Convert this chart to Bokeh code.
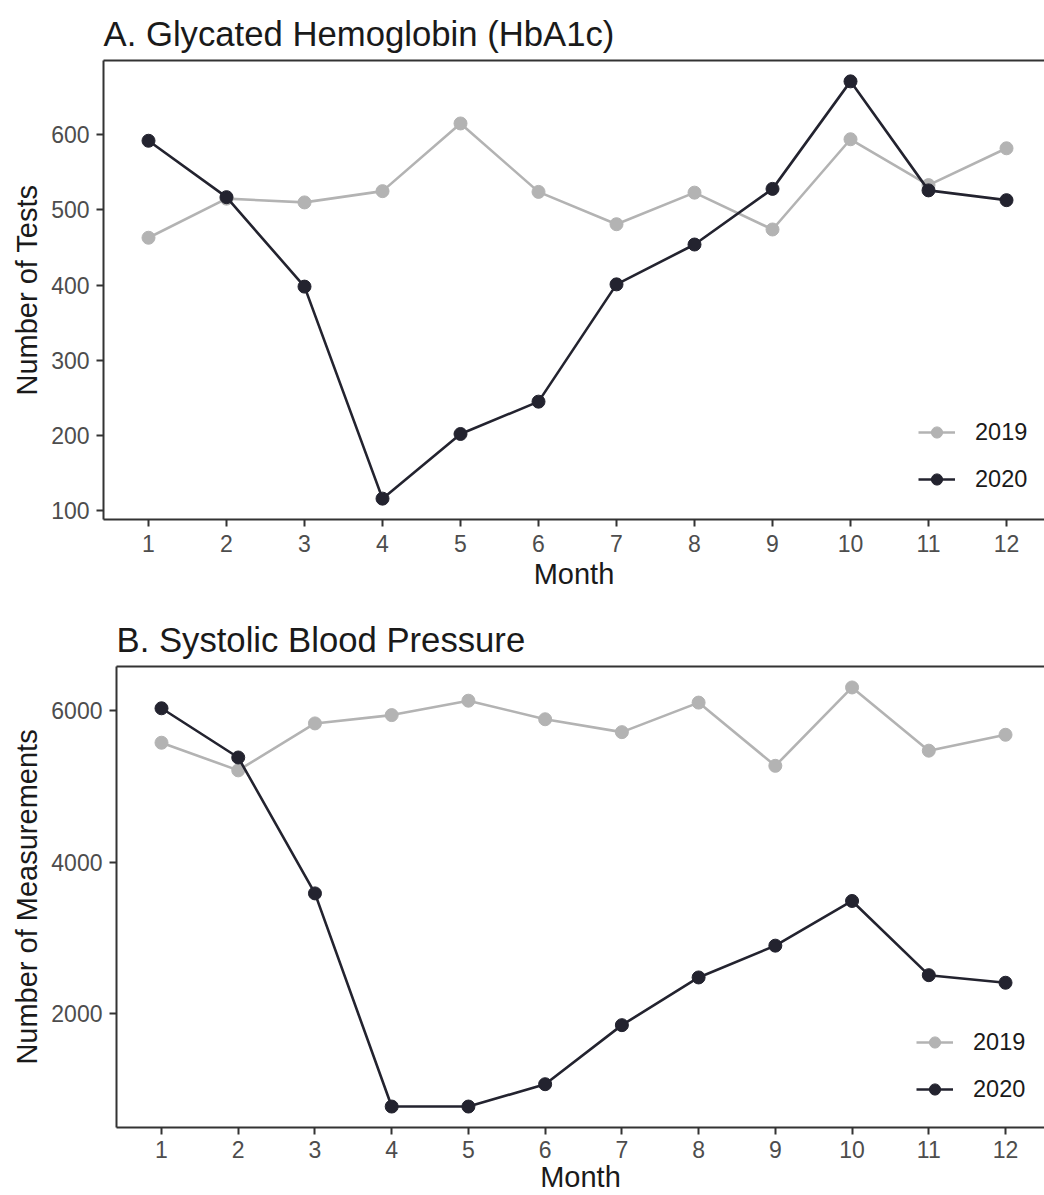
from bokeh.plotting import figure
from bokeh.models import Legend, LegendItem, FixedTicker, LinearAxis, Range1d
from bokeh.layouts import column, row
from bokeh.embed import file_html
from bokeh.resources import INLINE

# ---- data ----
months = list(range(1, 13))
hba1c_2019 = [463, 515, 510, 525, 615, 524, 481, 523, 474, 594, 533, 582]
hba1c_2020 = [592, 517, 398, 116, 202, 245, 401, 454, 528, 671, 526, 513]
sbp_2019 = [5580, 5215, 5835, 5945, 6135, 5890, 5720, 6110, 5275, 6310, 5475, 5685]
sbp_2020 = [6035, 5385, 3590, 775, 775, 1070, 1850, 2480, 2900, 3490, 2510, 2410]
hba1c_ticks = [100, 200, 300, 400, 500, 600]
sbp_ticks = [2000, 4000, 6000]
series_labels = ["2019", "2020"]

FONT = "Liberation Sans"
C19 = "#b3b3b3"
C20 = "#23232f"
AX = "#333333"


def make_panel(title, ylabel, y19, y20, yticks, height, mb_top, mb_left, x_start, x_end,
               legend_loc, x_lab_standoff, x_title_standoff):
    lo = min(y19 + y20)
    hi = max(y19 + y20)
    pad = (hi - lo) * 0.05
    p = figure(width=1044, height=height, output_backend="svg", toolbar_location=None,
               title=title, x_range=Range1d(x_start, x_end), y_range=Range1d(lo - pad, hi + pad),
               min_border_left=mb_left, min_border_right=0, min_border_top=mb_top,
               min_border_bottom=10)
    p.outline_line_color = None
    p.background_fill_color = "white"
    p.border_fill_color = "white"
    p.xgrid.visible = False
    p.ygrid.visible = False

    p.title.text_font = FONT
    p.title.text_font_size = "34.7px"
    p.title.text_font_style = "normal"
    p.title.text_color = "#1a1a1a"
    p.title.align = "left"
    p.title.standoff = 16

    for ax in (p.xaxis[0], p.yaxis[0]):
        ax.axis_line_color = AX
        ax.axis_line_width = 2
        ax.major_tick_line_color = AX
        ax.major_tick_line_width = 2
        ax.major_tick_out = 7
        ax.major_tick_in = 0
        ax.minor_tick_line_color = None
        ax.major_label_text_font = FONT
        ax.major_label_text_font_size = "23px"
        ax.major_label_text_color = "#4d4d4d"
        ax.axis_label_text_font = FONT
        ax.axis_label_text_font_size = "29px"
        ax.axis_label_text_font_style = "normal"
        ax.axis_label_text_color = "#1a1a1a"
    p.xaxis[0].major_label_standoff = x_lab_standoff
    p.xaxis[0].axis_label_standoff = x_title_standoff
    p.yaxis[0].major_label_standoff = 7
    p.yaxis[0].axis_label_standoff = 5
    p.xaxis[0].ticker = FixedTicker(ticks=months)
    p.yaxis[0].ticker = FixedTicker(ticks=yticks)
    p.xaxis[0].axis_label = "Month"
    p.yaxis[0].axis_label = ylabel

    top = LinearAxis(ticker=FixedTicker(ticks=[]), major_label_text_font_size="0px",
                     axis_line_color=AX, axis_line_width=2, major_tick_out=0,
                     major_tick_in=0, minor_tick_out=0, minor_tick_in=0,
                     major_label_standoff=0)
    p.add_layout(top, "above")

    l19 = p.line(months, y19, line_color=C19, line_width=2.6)
    s19 = p.scatter(months, y19, size=13, fill_color=C19, line_color=C19)
    l20 = p.line(months, y20, line_color=C20, line_width=2.6)
    s20 = p.scatter(months, y20, size=13, fill_color=C20, line_color=C20)

    leg = Legend(items=[LegendItem(label=series_labels[0], renderers=[l19, s19]),
                        LegendItem(label=series_labels[1], renderers=[l20, s20])],
                 location=legend_loc, border_line_color=None, background_fill_alpha=0,
                 padding=0, margin=0, spacing=19, glyph_width=37, glyph_height=28,
                 label_height=28, label_standoff=20, label_text_font=FONT,
                 label_text_font_size="23.5px", label_text_color="#1a1a1a")
    p.add_layout(leg)
    return p


pA = make_panel("A. Glycated Hemoglobin (HbA1c)", "Number of Tests", hba1c_2019, hba1c_2020,
                hba1c_ticks, 592, 60, 103, 0.423, 12.487, (815, 26), 8, 3)
pB = make_panel("B. Systolic Blood Pressure", "Number of Measurements", sbp_2019, sbp_2020,
                sbp_ticks, 603, 74, 116, 0.4135, 12.508, (800, 24), 6, 0)

layout = column(row(pA), row(pB), spacing=0)
open("out.html", "w").write(file_html(layout, INLINE))
